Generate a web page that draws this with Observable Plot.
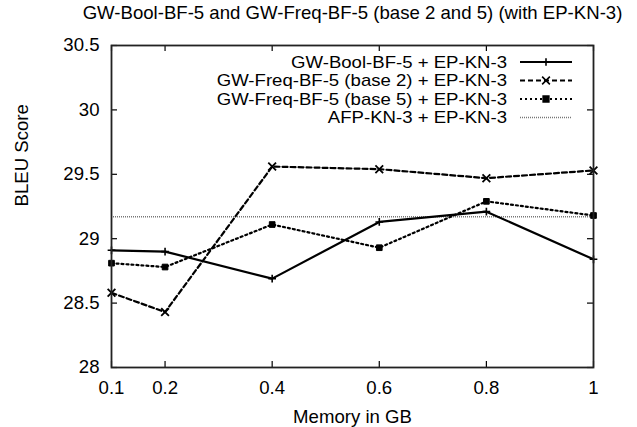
<!DOCTYPE html>
<html>
<head>
<meta charset="utf-8">
<script src="https://cdn.jsdelivr.net/npm/d3@7"></script>
<script src="https://cdn.jsdelivr.net/npm/@observablehq/plot@0.6"></script>
<style>
  html, body { margin: 0; padding: 0; background: #fff; }
</style>
</head>
<body>
<div id="chart"></div>
<script>
// ---- data ----
const memoryGB   = [0.1, 0.2, 0.4, 0.6, 0.8, 1];
const boolBF5    = [28.91, 28.90, 28.69, 29.13, 29.21, 28.84];
const freqBase2  = [28.58, 28.43, 29.56, 29.54, 29.47, 29.53];
const freqBase5  = [28.81, 28.78, 29.11, 28.93, 29.29, 29.18];
const afpBaseline = 29.17;
const xTicks = [0.1, 0.2, 0.4, 0.6, 0.8, 1];
const yTicks = [28, 28.5, 29, 29.5, 30, 30.5];
const seriesNames = [
  "GW-Bool-BF-5 + EP-KN-3",
  "GW-Freq-BF-5 (base 2) + EP-KN-3",
  "GW-Freq-BF-5 (base 5) + EP-KN-3",
  "AFP-KN-3 + EP-KN-3"
];
const titleText = "GW-Bool-BF-5 and GW-Freq-BF-5 (base 2 and 5) (with EP-KN-3)";
const xLabel = "Memory in GB";
const yLabel = "BLEU Score";

// ---- styles ----
const styles = [
  {dash: null,  symbol: "plus",  r: 2.6, fill: "none", width: 2},
  {dash: "5,3", symbol: "times", r: 3.6, fill: "none", width: 2},
  {dash: "2,3", symbol: "square", r: 3.2, fill: "black", width: 2},
  {dash: "1,1", symbol: null, r: 0, fill: "none", width: 1.5, color: "#777"}
];

const rows = (vals, k) => memoryGB.map((m, i) => ({x: m, y: vals[i], k}));
const bool = rows(boolBF5, 0), b2 = rows(freqBase2, 1), b5 = rows(freqBase5, 2);

const W = 637, H = 427;
const mL = 111, mR = 44, mT = 45, mB = 60;
const pw = W - mL - mR, ph = H - mT - mB;
const FS = 18.6;

function legend(index, scales, values, dims) {
  const g = d3.create("svg:g").attr("font-size", FS);
  const xr = dims.width - dims.marginRight;
  seriesNames.forEach((name, i) => {
    const s = styles[i];
    const y = dims.marginTop + 17 + i * 18.5;
    g.append("text").attr("transform", `translate(${xr - 86},${y}) scale(1,0.88)`).attr("dy", "0.35em")
      .attr("text-anchor", "end").attr("fill", "black").text(name);
    g.append("line").attr("x1", xr - 73).attr("x2", xr - 21).attr("y1", y).attr("y2", y)
      .attr("stroke", s.color || "black").attr("stroke-width", s.width)
      .attr("stroke-dasharray", s.dash);
    if (s.symbol) {
      const type = {plus: d3.symbolPlus, times: d3.symbolTimes, square: d3.symbolSquare}[s.symbol];
      g.append("path").attr("transform", `translate(${xr - 47},${y})`)
        .attr("d", d3.symbol(type, s.r * s.r * Math.PI)())
        .attr("fill", s.fill).attr("stroke", "black").attr("stroke-width", 1.6);
    }
  });
  return g.node();
}

const chart = Plot.plot({
  width: W, height: H,
  marginLeft: mL, marginRight: mR, marginTop: mT, marginBottom: mB,
  style: {fontFamily: "'Liberation Sans', Arial, sans-serif", fontSize: FS + "px", background: "white", color: "black"},
  x: {domain: [0.1, 1], ticks: xTicks},
  y: {domain: [28, 30.5], ticks: yTicks},
  marks: [
    Plot.axisX({ticks: xTicks, tickSize: 0, tickPadding: 13, tickFormat: d => String(d), label: null}),
    Plot.axisY({ticks: yTicks, tickSize: 0, tickPadding: 12, tickFormat: d => String(d), label: null}),
    // inward tick marks on all four sides
    Plot.tickY(yTicks, {y: d => d, insetRight: pw - 6, stroke: "black", strokeWidth: 1.2}),
    Plot.tickY(yTicks, {y: d => d, insetLeft: pw - 6, stroke: "black", strokeWidth: 1.2}),
    Plot.tickX(xTicks, {x: d => d, insetTop: ph - 6, stroke: "black", strokeWidth: 1.2}),
    Plot.tickX(xTicks, {x: d => d, insetBottom: ph - 6, stroke: "black", strokeWidth: 1.2}),
    Plot.ruleY([afpBaseline], {stroke: "#777", strokeWidth: 1.5, strokeDasharray: "1,1"}),
    Plot.line(b5, {x: "x", y: "y", stroke: "black", strokeWidth: 2.2, strokeDasharray: "2,3"}),
    Plot.line(b2, {x: "x", y: "y", stroke: "black", strokeWidth: 2.2, strokeDasharray: "5,3"}),
    Plot.line(bool, {x: "x", y: "y", stroke: "black", strokeWidth: 2.2}),
    Plot.dot(b5, {x: "x", y: "y", symbol: "square", r: 3.2, fill: "black", stroke: "black", strokeWidth: 1}),
    Plot.dot(b2, {x: "x", y: "y", symbol: "times", r: 3.6, stroke: "black", strokeWidth: 1.8}),
    Plot.dot(bool, {x: "x", y: "y", symbol: "plus", r: 2.6, stroke: "black", strokeWidth: 1.6}),
    Plot.frame({stroke: "#222", strokeWidth: 1.8}),
    legend,
    Plot.text([titleText], {text: d => d, frameAnchor: "top", dy: -32, lineAnchor: "middle", fill: "black"}),
    Plot.text([xLabel], {text: d => d, frameAnchor: "bottom", dy: 50, lineAnchor: "middle", fill: "black"}),
    Plot.text([yLabel], {text: d => d, frameAnchor: "left", dx: -89, rotate: -90, lineAnchor: "middle", fill: "black"})
  ]
});
document.getElementById("chart").appendChild(chart);
</script>
</body>
</html>
